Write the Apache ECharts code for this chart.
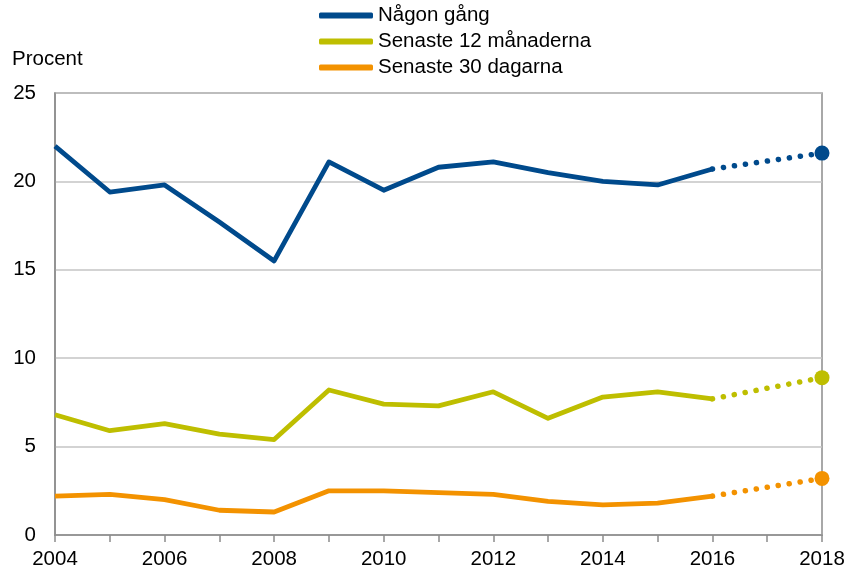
<!DOCTYPE html>
<html>
<head>
<meta charset="utf-8">
<script src="https://cdn.jsdelivr.net/npm/echarts@6/dist/echarts.min.js"></script>
<style>
  html, body { margin: 0; padding: 0; background: #fff; }
  #chart { width: 849px; height: 573px; }
</style>
</head>
<body>
<div id="chart"></div>
<script>
// years with survey data (solid part), plus the projected point
const years = [2004, 2005, 2006, 2007, 2008, 2009, 2010, 2011, 2012, 2013, 2014, 2015, 2016]
const lastYear = 2018

const seriesNames = ['Någon gång', 'Senaste 12 månaderna', 'Senaste 30 dagarna']
const nagonGang = [22.0, 19.4, 19.8, 17.7, 15.5, 21.1, 19.5, 20.8, 21.1, 20.5, 20.0, 19.8, 20.7]
const senaste12 = [6.8, 5.9, 6.3, 5.7, 5.4, 8.2, 7.4, 7.3, 8.1, 6.6, 7.8, 8.1, 7.7]
const senaste30 = [2.2, 2.3, 2.0, 1.4, 1.3, 2.5, 2.5, 2.4, 2.3, 1.9, 1.7, 1.8, 2.2]
const last2018 = [21.6, 8.9, 3.2]

const yTicks = [0, 5, 10, 15, 20, 25]
const colors = ['#004A8C', '#BEBE00', '#F39200']

const chart = echarts.init(document.getElementById('chart'))
const font = 'Liberation Sans, Arial, sans-serif'
const fs = 20.5

const allValues = [nagonGang, senaste12, senaste30]
const series = []
allValues.forEach((vals, i) => {
  series.push({
    name: seriesNames[i],
    type: 'line',
    data: years.map((y, k) => [y, vals[k]]),
    showSymbol: false,
    symbol: 'none',
    lineStyle: { color: colors[i], width: 4.8, join: 'round' },
    itemStyle: { color: colors[i] },
    z: 3
  })
})
allValues.forEach((vals, i) => {
  series.push({
    name: seriesNames[i],
    type: 'line',
    data: [[years[years.length - 1], vals[vals.length - 1]], [lastYear, last2018[i]]],
    symbol: 'circle',
    symbolSize: (v, p) => (p.dataIndex === 1 ? 15 : 0),
    lineStyle: { color: colors[i], width: 5.5, type: [0.1, 11], cap: 'round' },
    itemStyle: { color: colors[i] },
    z: 3
  })
})

const option = {
  animation: false,
  textStyle: { fontFamily: font },
  legend: {
    orient: 'vertical',
    left: 314,
    top: 0,
    itemGap: 5,
    itemWidth: 54,
    itemHeight: 6,
    icon: 'roundRect',
    data: seriesNames,
    textStyle: { fontFamily: font, fontSize: fs, lineHeight: 20, color: '#000' }
  },
  graphic: [{
    type: 'text',
    left: 12,
    top: 49,
    style: { text: 'Procent', font: fs + 'px ' + font, fill: '#000' }
  }],
  grid: {
    left: 55,
    right: 27,
    top: 93,
    bottom: 38,
    show: true,
    borderColor: '#8c8c8c',
    borderWidth: 1.5
  },
  xAxis: {
    type: 'value',
    min: 2004,
    max: 2018,
    interval: 1,
    axisLine: { lineStyle: { color: '#8c8c8c', width: 1.5 } },
    axisTick: { show: true, length: 7, lineStyle: { color: '#8c8c8c', width: 1.5 } },
    splitLine: { show: false },
    axisLabel: {
      color: '#000',
      fontSize: fs,
      fontFamily: font,
      margin: 14,
      formatter: v => (v % 2 === 0 ? String(v) : '')
    }
  },
  yAxis: {
    type: 'value',
    min: yTicks[0],
    max: yTicks[yTicks.length - 1],
    interval: 5,
    axisLine: { show: true, lineStyle: { color: '#8c8c8c', width: 1.5 } },
    axisTick: { show: false },
    splitLine: { lineStyle: { color: '#c4c4c4', width: 1.5 } },
    axisLabel: { color: '#000', fontSize: fs, fontFamily: font, margin: 19 }
  },
  series: series
}
chart.setOption(option)
</script>
</body>
</html>
